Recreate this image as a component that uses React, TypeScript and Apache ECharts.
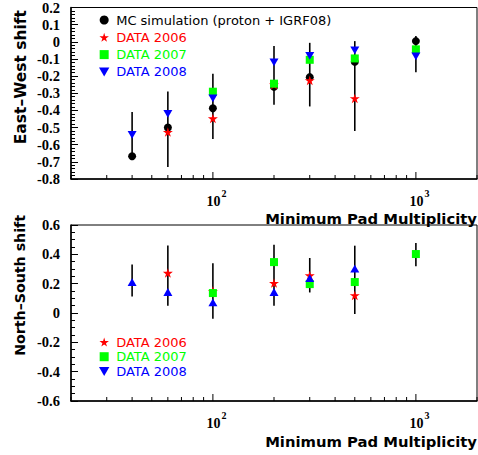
import React, { useEffect, useRef } from "react";
import * as echarts from "echarts";

const xValues = [40, 60, 100, 200, 300, 500, 1000];
const xTickValues = [20, 30, 40, 50, 60, 70, 80, 90, 100, 200, 300, 400, 500, 600, 700, 800, 900, 1000, 2000];
const xLabelValues = [100, 1000];

const seriesNames = ["MC simulation (proton + IGRF08)", "DATA 2006", "DATA 2007", "DATA 2008"];

// East-West panel
const ewMC = [-0.667, -0.5, -0.387, -0.263, -0.206, -0.116, 0.004];
const ew2006 = [null, -0.526, -0.447, -0.25, -0.225, -0.33, null];
const ew2007 = [null, null, -0.291, -0.244, -0.105, -0.097, -0.044];
const ew2008 = [-0.543, -0.42, -0.33, -0.12, -0.082, -0.05, -0.085];
const ewErrLow = [-0.65, -0.73, -0.567, -0.367, -0.377, -0.52, -0.177];
const ewErrHigh = [-0.41, -0.29, -0.187, -0.025, -0.006, 0.004, 0.034];

// North-South panel
const ns2006 = [null, 0.273, 0.15, 0.204, 0.256, 0.12, null];
const ns2007 = [null, null, 0.136, 0.347, 0.197, 0.211, 0.402];
const ns2008 = [0.211, 0.143, 0.072, 0.143, 0.238, 0.302, null];
const nsErrLow = [0.113, 0.05, -0.04, 0.05, 0.14, -0.007, 0.318];
const nsErrHigh = [0.33, 0.461, 0.34, 0.466, 0.375, 0.459, 0.477];

const STAR = "path://M50,0 L61,35 L98,35 L68,57 L79,91 L50,70 L21,91 L32,57 L2,35 L39,35 Z";
const SQUARE = "path://M0,0 L100,0 L100,100 L0,100 Z";
const TRI_DOWN = "path://M0,0 L100,0 L50,87 Z";
const TRI_UP = "path://M50,0 L100,87 L0,87 Z";

const RED = "#ff0000";
const GREEN = "#00ff00";
const BLUE = "#0000ff";

function pairs(vals: (number | null)[]) {
  const out: number[][] = [];
  vals.forEach((v, i) => {
    if (v !== null) out.push([xValues[i], v]);
  });
  return out;
}

function fmtY(v: number) {
  const r = Math.round(v * 10) / 10;
  return r === 0 ? "0" : String(r);
}

export default function App() {
  const ref = useRef<HTMLDivElement>(null);
  useEffect(() => {
    document.body.style.margin = "0";
    const chart = echarts.init(ref.current!, null, { renderer: "svg" });

    const yMins = [-0.8, -0.6];

    const xAxisBase = (gi: number) => ({
      type: "log" as const,
      logBase: 10,
      gridIndex: gi,
      min: 20,
      max: 2000,
      axisLine: { show: true, onZero: false, lineStyle: { color: "#000", width: 1.5 } },
      axisTick: { show: false },
      splitLine: { show: false },
      minorTick: { show: false },
      axisLabel: {
        show: true,
        customValues: xLabelValues,
        margin: 9,
        formatter: (v: number) => `{b|10}{s|${Math.round(Math.log10(v))}}`,
        rich: {
          b: {
            fontFamily: "Liberation Serif",
            fontWeight: "bold",
            fontSize: 14,
            color: "#000",
            lineHeight: 20,
            verticalAlign: "bottom",
            padding: [0, 0, 0, 7],
          },
          s: {
            fontFamily: "Liberation Serif",
            fontWeight: "bold",
            fontSize: 10,
            color: "#000",
            verticalAlign: "top",
            padding: [0, 0, 0, 1],
          },
        },
      },
    });

    const yAxisBase = (gi: number, min: number, max: number, interval: number, minorSplit: number) => ({
      type: "value" as const,
      gridIndex: gi,
      min,
      max,
      interval,
      axisLine: { show: true, onZero: false, lineStyle: { color: "#000", width: 1.5 } },
      axisTick: { show: true, inside: true, length: 7, lineStyle: { color: "#000", width: 1 } },
      minorTick: { show: true, splitNumber: minorSplit, length: 4, lineStyle: { color: "#000", width: 1 } },
      splitLine: { show: false },
      minorSplitLine: { show: false },
      axisLabel: {
        margin: 11,
        fontFamily: "Liberation Serif",
        fontWeight: "bold",
        fontSize: 14.5,
        color: "#000",
        formatter: fmtY,
      },
    });

    const tickSeries = (gi: number) => ({
      type: "custom" as const,
      xAxisIndex: gi,
      yAxisIndex: gi,
      silent: true,
      z: 1,
      clip: false,
      data: xTickValues.map((v) => [v, yMins[gi]]),
      renderItem: (params: any, api: any) => {
        const v = api.value(0);
        const p = api.coord([v, api.value(1)]);
        const major = Math.abs(Math.log10(v) - Math.round(Math.log10(v))) < 1e-6;
        const len = major ? 7 : 4;
        return {
          type: "line",
          shape: { x1: p[0], y1: p[1], x2: p[0], y2: p[1] - len },
          style: { stroke: "#000", lineWidth: 1 },
        };
      },
    });

    const errSeries = (gi: number, lo: number[], hi: number[]) => ({
      type: "custom" as const,
      xAxisIndex: gi,
      yAxisIndex: gi,
      silent: true,
      z: 2,
      data: xValues.map((x, i) => [x, lo[i], hi[i]]),
      encode: { x: 0, y: [1, 2] },
      renderItem: (params: any, api: any) => {
        const a = api.coord([api.value(0), api.value(1)]);
        const b = api.coord([api.value(0), api.value(2)]);
        return {
          type: "line",
          shape: { x1: a[0], y1: a[1], x2: b[0], y2: b[1] },
          style: { stroke: "#000", lineWidth: 1.6 },
        };
      },
    });

    const scatter = (gi: number, name: string, vals: (number | null)[], symbol: string, size: number, color: string) => ({
      type: "scatter" as const,
      name,
      xAxisIndex: gi,
      yAxisIndex: gi,
      data: pairs(vals),
      symbol,
      symbolSize: size,
      symbolKeepAspect: true,
      itemStyle: { color, opacity: 1 },
      z: 3,
      silent: true,
    });

    const legendText = { fontFamily: "DejaVu Sans", fontSize: 13, lineHeight: 14 };

    const axisTitle = (y: number) => ({
      type: "text",
      x: 477,
      y,
      style: {
        text: "Minimum Pad Multiplicity",
        fontFamily: "DejaVu Sans",
        fontWeight: "bold",
        fontSize: 14.8,
        fill: "#000",
        align: "right",
        verticalAlign: "middle",
      },
    });

    const option: any = {
      animation: false,
      backgroundColor: "#fff",
      grid: [
        { left: 71, top: 3, width: 406, height: 176, show: true, borderColor: "#000", borderWidth: 1, backgroundColor: "transparent" },
        { left: 71, top: 225, width: 406, height: 176, show: true, borderColor: "#000", borderWidth: 1, backgroundColor: "transparent" },
      ],
      xAxis: [xAxisBase(0), xAxisBase(1)],
      yAxis: [yAxisBase(0, -0.8, 0.2, 0.1, 5), yAxisBase(1, -0.6, 0.6, 0.2, 4)],
      legend: [
        {
          orient: "vertical",
          left: 99,
          top: 13,
          padding: 0,
          itemWidth: 14,
          itemHeight: 9,
          itemGap: 3.3,
          selectedMode: false,
          symbolKeepAspect: true,
          textStyle: legendText,
          data: [
            { name: seriesNames[0], textStyle: { color: "#000" } },
            { name: seriesNames[1], textStyle: { color: RED } },
            { name: seriesNames[2], icon: SQUARE, textStyle: { color: GREEN } },
            { name: seriesNames[3], textStyle: { color: BLUE } },
          ],
        },
        {
          orient: "vertical",
          left: 99,
          top: 335,
          padding: 0,
          itemWidth: 14,
          itemHeight: 9,
          itemGap: 0.7,
          selectedMode: false,
          symbolKeepAspect: true,
          textStyle: legendText,
          data: [
            { name: seriesNames[1], textStyle: { color: RED } },
            { name: seriesNames[2], icon: SQUARE, textStyle: { color: GREEN } },
            { name: seriesNames[3], icon: TRI_DOWN, textStyle: { color: BLUE } },
          ],
        },
      ],
      graphic: [
        {
          type: "text",
          x: 21,
          y: 10,
          rotation: Math.PI / 2,
          style: {
            text: "East–West shift",
            fontFamily: "DejaVu Sans",
            fontWeight: "bold",
            fontSize: 15.5,
            fill: "#000",
            align: "right",
            verticalAlign: "middle",
          },
        },
        {
          type: "text",
          x: 20,
          y: 215,
          rotation: Math.PI / 2,
          style: {
            text: "North–South shift",
            fontFamily: "DejaVu Sans",
            fontWeight: "bold",
            fontSize: 14.2,
            fill: "#000",
            align: "right",
            verticalAlign: "middle",
          },
        },
        axisTitle(218.5),
        axisTitle(441),
      ],
      series: [
        tickSeries(0),
        tickSeries(1),
        errSeries(0, ewErrLow, ewErrHigh),
        errSeries(1, nsErrLow, nsErrHigh),
        scatter(0, seriesNames[0], ewMC, "circle", 8, "#000"),
        scatter(0, seriesNames[1], ew2006, STAR, 10, RED),
        scatter(0, seriesNames[2], ew2007, SQUARE, 8, GREEN),
        scatter(0, seriesNames[3], ew2008, TRI_DOWN, 9, BLUE),
        scatter(1, seriesNames[1], ns2006, STAR, 10, RED),
        scatter(1, seriesNames[2], ns2007, SQUARE, 8, GREEN),
        scatter(1, seriesNames[3], ns2008, TRI_UP, 9, BLUE),
      ],
    };

    chart.setOption(option);
    return () => chart.dispose();
  }, []);

  return <div ref={ref} style={{ width: 478, height: 455 }} />;
}
